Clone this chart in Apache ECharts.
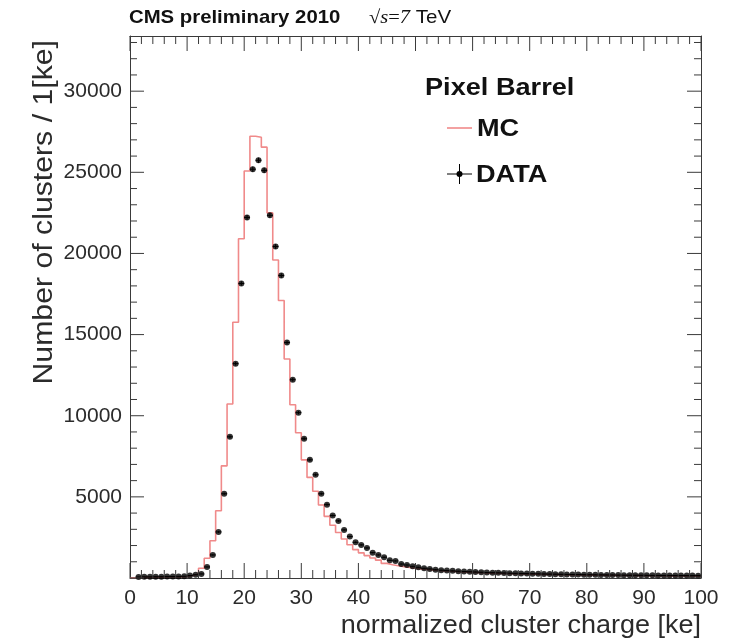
<!DOCTYPE html>
<html>
<head>
<meta charset="utf-8">
<script src="https://cdn.jsdelivr.net/npm/echarts@6/dist/echarts.min.js"></script>
<style>
  html, body { margin: 0; padding: 0; background: #fff; }
  #chart { width: 735px; height: 639px; }
</style>
</head>
<body>
<div id="chart"></div>
<script>
// Pixel barrel normalized cluster charge, 1 ke bins from 0 to 100 ke.
// MC histogram contents, bin i covers [i, i+1) ke.
const mcCounts = [
  20, 30, 40, 45, 50, 55, 60, 65, 70, 80,
  150, 250, 600, 1220, 2300, 4140, 6910, 10720, 15760, 20910,
  25080, 27220, 27160, 26550, 22500, 19600, 17100, 13500, 10680, 8950,
  7280, 6200, 5350, 4500, 3800, 3250, 2800, 2400, 2050, 1750,
  1550, 1380, 1230, 1100, 900, 820, 760, 700, 650, 600,
  560, 520, 490, 460, 440, 420, 400, 380, 360, 345,
  330, 315, 300, 290, 280, 270, 262, 254, 246, 238,
  230, 224, 218, 212, 206, 200, 195, 190, 185, 180,
  176, 172, 168, 164, 160, 156, 153, 150, 147, 144,
  141, 138, 135, 132, 129, 126, 124, 122, 120, 118
];

// Data counts, bin i covers [i, i+1) ke (null where the bin is empty).
const dataCounts = [
  null, 60, 70, 70, 80, 80, 90, 90, 100, 110,
  150, 200, 250, 680, 1420, 2840, 5190, 8700, 13210, 18150,
  22220, 25190, 25740, 25120, 22350, 20430, 18640, 14510, 12220, 10190,
  8580, 7280, 6360, 5190, 4520, 3850, 3520, 2960, 2550, 2200,
  2040, 1850, 1560, 1420, 1280, 1090, 1050, 860, 800, 720,
  660, 600, 560, 510, 480, 460, 440, 420, 400, 385,
  370, 355, 340, 330, 320, 310, 300, 290, 280, 272,
  265, 258, 250, 243, 236, 230, 223, 217, 211, 205,
  200, 196, 192, 188, 184, 180, 177, 174, 171, 168,
  165, 162, 160, 158, 156, 154, 152, 150, 148, 146
];

// Axis tick labels
const xTicks = [0, 10, 20, 30, 40, 50, 60, 70, 80, 90, 100];
const yTicks = [5000, 10000, 15000, 20000, 25000, 30000];

const binWidth = 1;
const xMax = 100;
const yMax = 33400;
const xMajorStep = 10, xMinorStep = 2;
const yMajorStep = 5000, yMinorStep = 1000;

// Step-line points for the MC histogram (left edge of each bin, plus closing edge).
const mcLine = mcCounts.map((v, i) => [i * binWidth, v]);
mcLine.push([xMax, mcCounts[mcCounts.length - 1]]);

// Data points at bin centres with sqrt(N) vertical errors and half-bin horizontal errors.
const dataPoints = [];
dataCounts.forEach((v, i) => {
  if (v !== null) dataPoints.push([i * binWidth + binWidth / 2, v, Math.sqrt(v)]);
});

// Frame tick positions: [value, isMajor]
const xFrameTicks = [];
for (let v = 0; v <= xMax; v += xMinorStep) xFrameTicks.push([v, v % xMajorStep === 0 ? 1 : 0]);
const yFrameTicks = [];
for (let v = 0; v <= yMax; v += yMinorStep) yFrameTicks.push([v, v % yMajorStep === 0 ? 1 : 0]);

const chart = echarts.init(document.getElementById('chart'), null, { renderer: 'canvas' });

const FONT = 'Liberation Sans, Arial, Helvetica, sans-serif';
const SERIF = 'Liberation Serif, Times New Roman, serif';
const frameColor = '#3a3a3a';
const labelColor = '#2b2b2b';
const tickStyle = { stroke: frameColor, lineWidth: 1 };

const frameLine = { show: true, onZero: false, lineStyle: { color: frameColor, width: 1 } };
const noSplit = { show: false };

const option = {
  backgroundColor: '#ffffff',
  animation: false,
  grid: { left: 130, right: 34, top: 36, bottom: 61, containLabel: false },
  xAxis: [
    {
      type: 'value', position: 'bottom', min: 0, max: xMax, interval: xMajorStep,
      axisLine: frameLine, axisTick: { show: false }, splitLine: noSplit,
      axisLabel: {
        show: true, fontFamily: FONT, fontSize: 21, color: labelColor, margin: 10,
        formatter: v => (xTicks.indexOf(v) >= 0 ? String(v) : '')
      }
    },
    {
      type: 'value', position: 'top', min: 0, max: xMax, interval: xMajorStep,
      axisLine: frameLine, axisTick: { show: false }, axisLabel: { show: false }, splitLine: noSplit
    }
  ],
  yAxis: [
    {
      type: 'value', position: 'left', min: 0, max: yMax, interval: yMajorStep,
      axisLine: frameLine, axisTick: { show: false }, splitLine: noSplit,
      axisLabel: {
        show: true, fontFamily: FONT, fontSize: 21, color: labelColor, margin: 8,
        formatter: v => (yTicks.indexOf(v) >= 0 ? String(v) : '')
      }
    },
    {
      type: 'value', position: 'right', min: 0, max: yMax, interval: yMajorStep,
      axisLine: frameLine, axisTick: { show: false }, axisLabel: { show: false }, splitLine: noSplit
    }
  ],
  series: [
    {
      name: 'MC',
      type: 'line',
      step: 'end',
      xAxisIndex: 0, yAxisIndex: 0,
      data: mcLine,
      showSymbol: false,
      lineStyle: { color: '#f08a8a', width: 1.6 },
      z: 2
    },
    {
      name: 'DATA errors',
      type: 'custom',
      xAxisIndex: 0, yAxisIndex: 0,
      data: dataPoints,
      renderItem: function (params, api) {
        const x = api.value(0), y = api.value(1), e = api.value(2);
        const l = api.coord([x - binWidth / 2, y]);
        const r = api.coord([x + binWidth / 2, y]);
        const t = api.coord([x, y + e]);
        const b = api.coord([x, y - e]);
        const style = { stroke: '#000', lineWidth: 1 };
        return {
          type: 'group',
          children: [
            { type: 'line', shape: { x1: l[0], y1: l[1], x2: r[0], y2: r[1] }, style: style },
            { type: 'line', shape: { x1: t[0], y1: t[1], x2: b[0], y2: b[1] }, style: style }
          ]
        };
      },
      z: 3
    },
    {
      name: 'DATA',
      type: 'scatter',
      xAxisIndex: 0, yAxisIndex: 0,
      data: dataPoints.map(p => [p[0], p[1]]),
      symbol: 'circle',
      symbolSize: 6,
      itemStyle: { color: '#000' },
      z: 4
    },
    // Inward-pointing ticks on the bottom and top frame edges
    {
      name: 'x frame ticks',
      type: 'custom',
      xAxisIndex: 0, yAxisIndex: 0,
      clip: false, silent: true,
      data: xFrameTicks,
      renderItem: function (params, api) {
        const len = api.value(1) ? 15 : 8;
        const b = api.coord([api.value(0), 0]);
        const t = api.coord([api.value(0), yMax]);
        return {
          type: 'group',
          children: [
            { type: 'line', shape: { x1: b[0], y1: b[1], x2: b[0], y2: b[1] - len }, style: tickStyle },
            { type: 'line', shape: { x1: t[0], y1: t[1], x2: t[0], y2: t[1] + len }, style: tickStyle }
          ]
        };
      },
      z: 5
    },
    // Inward-pointing ticks on the left and right frame edges
    {
      name: 'y frame ticks',
      type: 'custom',
      xAxisIndex: 0, yAxisIndex: 0,
      clip: false, silent: true,
      data: yFrameTicks,
      renderItem: function (params, api) {
        const len = api.value(1) ? 14 : 7;
        const l = api.coord([0, api.value(0)]);
        const r = api.coord([xMax, api.value(0)]);
        return {
          type: 'group',
          children: [
            { type: 'line', shape: { x1: l[0], y1: l[1], x2: l[0] + len, y2: l[1] }, style: tickStyle },
            { type: 'line', shape: { x1: r[0], y1: r[1], x2: r[0] - len, y2: r[1] }, style: tickStyle }
          ]
        };
      },
      z: 5
    }
  ],
  graphic: [
    // Header
    {
      type: 'text', x: 129, y: 18, scaleX: 1.07,
      style: { text: 'CMS preliminary 2010', font: 'bold 19px ' + FONT, fill: '#111', verticalAlign: 'middle' }
    },
    {
      type: 'text', x: 369, y: 18, scaleX: 1.08,
      style: {
        text: '{r|√}{i|s}{r|=}{i|7}{s| TeV}',
        verticalAlign: 'middle',
        rich: {
          r: { font: '19px ' + SERIF, fill: '#111' },
          i: { font: 'italic 19px ' + SERIF, fill: '#111' },
          s: { font: '19px ' + FONT, fill: '#111' }
        }
      }
    },
    // Legend
    {
      type: 'text', x: 425, y: 89, scaleX: 1.18,
      style: { text: 'Pixel Barrel', font: 'bold 23px ' + FONT, fill: '#111', verticalAlign: 'middle' }
    },
    {
      type: 'line', shape: { x1: 447, y1: 128, x2: 472, y2: 128 },
      style: { stroke: '#f08a8a', lineWidth: 1.6 }
    },
    {
      type: 'text', x: 477, y: 130, scaleX: 1.18,
      style: { text: 'MC', font: 'bold 23px ' + FONT, fill: '#111', verticalAlign: 'middle' }
    },
    {
      type: 'line', shape: { x1: 447, y1: 174, x2: 472, y2: 174 },
      style: { stroke: '#000', lineWidth: 1 }
    },
    {
      type: 'line', shape: { x1: 459.5, y1: 164, x2: 459.5, y2: 184 },
      style: { stroke: '#000', lineWidth: 1 }
    },
    {
      type: 'circle', shape: { cx: 459.5, cy: 174, r: 3 },
      style: { fill: '#000' }
    },
    {
      type: 'text', x: 476, y: 176, scaleX: 1.18,
      style: { text: 'DATA', font: 'bold 23px ' + FONT, fill: '#111', verticalAlign: 'middle' }
    },
    // Axis titles
    {
      type: 'text', x: 701, y: 626, scaleX: 1.08,
      style: {
        text: 'normalized cluster charge [ke]', font: '25px ' + FONT, fill: labelColor,
        align: 'right', verticalAlign: 'middle'
      }
    },
    {
      type: 'text', x: 45, y: 40, rotation: Math.PI / 2, scaleX: 1.12,
      style: {
        text: 'Number of clusters / 1[ke]', font: '27px ' + FONT, fill: labelColor,
        align: 'right', verticalAlign: 'middle'
      }
    }
  ]
};

chart.setOption(option);
</script>
</body>
</html>
